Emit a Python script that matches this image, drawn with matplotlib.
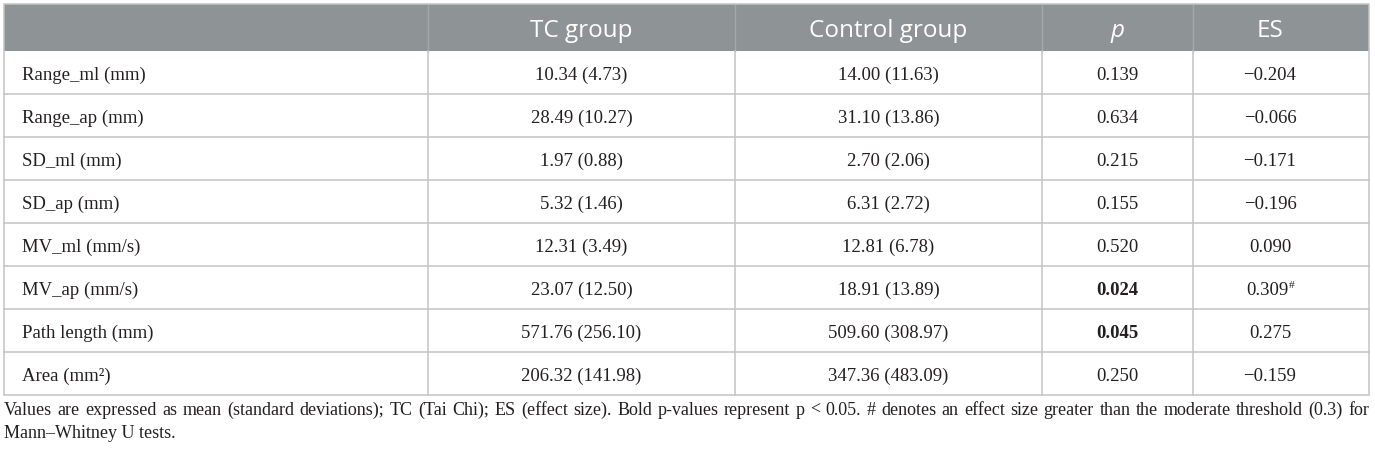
import matplotlib
matplotlib.use("Agg")
import matplotlib.pyplot as plt
from matplotlib.patches import Rectangle

# ---------------- data ----------------
col_headers = ["", "TC group", "Control group", "p", "ES"]
variables = ["Range_ml (mm)", "Range_ap (mm)", "SD_ml (mm)", "SD_ap (mm)",
             "MV_ml (mm/s)", "MV_ap (mm/s)", "Path length (mm)", "Area (mm²)"]
tc_mean = [10.34, 28.49, 1.97, 5.32, 12.31, 23.07, 571.76, 206.32]
tc_sd = [4.73, 10.27, 0.88, 1.46, 3.49, 12.50, 256.10, 141.98]
ctrl_mean = [14.00, 31.10, 2.70, 6.31, 12.81, 18.91, 509.60, 347.36]
ctrl_sd = [11.63, 13.86, 2.06, 2.72, 6.78, 13.89, 308.97, 483.09]
p_values = [0.139, 0.634, 0.215, 0.155, 0.520, 0.024, 0.045, 0.250]
effect_sizes = [-0.204, -0.066, -0.171, -0.196, 0.090, 0.309, 0.275, -0.159]
es_moderate = [False, False, False, False, False, True, False, False]
caption_line1 = ("Values are expressed as mean (standard deviations); TC (Tai Chi); ES (effect size). "
                 "Bold p-values represent p < 0.05. # denotes an effect size greater than the "
                 "moderate threshold (0.3) for")
caption_line2 = "Mann–Whitney U tests."

# ---------------- layout ----------------
W, H = 1375, 453
col_x = [4, 428, 735, 1042, 1193, 1369]
top, header_bottom, row_h = 4, 51, 43
n_rows = len(variables)
bottom = header_bottom + row_h * n_rows

header_bg = "#8e9395"
grid_c = "#c3c3c3"
text_c = "#231f20"
serif = "Liberation Serif"
sans = "Open Sans"
body_fs = 13.5
head_fs = 17.5
cap_fs = 13

fig = plt.figure(figsize=(W / 100, H / 100), dpi=100)
ax = fig.add_axes([0, 0, 1, 1])
ax.set_xlim(0, W)
ax.set_ylim(H, 0)
ax.axis("off")

# header band
ax.add_patch(Rectangle((col_x[0], top), col_x[-1] - col_x[0], header_bottom - top,
                       facecolor=header_bg, edgecolor="none", zorder=1))
# header dividers
for x in col_x[1:-1]:
    ax.plot([x, x], [top, header_bottom], color="#a4a8aa", lw=1.0, zorder=2)
# body grid
for i in range(1, n_rows):
    y = header_bottom + i * row_h
    ax.plot([col_x[0], col_x[-1]], [y, y], color=grid_c, lw=1.1, zorder=2)
for x in col_x[1:-1]:
    ax.plot([x, x], [header_bottom, bottom], color=grid_c, lw=1.1, zorder=2)
# outer border
ax.add_patch(Rectangle((col_x[0], top), col_x[-1] - col_x[0], bottom - top,
                       facecolor="none", edgecolor=grid_c, lw=1.1, zorder=3))

# header / value centres
centers = [(col_x[i] + col_x[i + 1]) / 2 for i in range(len(col_x) - 1)]
centers[4] = 1270
for j, h in enumerate(col_headers):
    if not h:
        continue
    ax.text(centers[j], 37.3, h, ha="center", va="baseline", color="white",
            fontsize=head_fs, family=sans, style="italic" if h == "p" else "normal", zorder=4)

def fmt(v):
    return f"{v:.3f}".replace("-", "\u2212")

renderer = fig.canvas.get_renderer()

def width_of(s, **kw):
    t = ax.text(0, 0, s, **kw)
    w = t.get_window_extent(renderer).width
    t.remove()
    return w

for i, var in enumerate(variables):
    yb = header_bottom + i * row_h + 29
    ax.text(22, yb, var, ha="left", va="baseline", fontsize=body_fs, family=serif, color=text_c)
    ax.text(centers[1], yb, f"{tc_mean[i]:.2f} ({tc_sd[i]:.2f})", ha="center", va="baseline",
            fontsize=body_fs, family=serif, color=text_c)
    ax.text(centers[2], yb, f"{ctrl_mean[i]:.2f} ({ctrl_sd[i]:.2f})", ha="center", va="baseline",
            fontsize=body_fs, family=serif, color=text_c)
    ax.text(centers[3], yb, f"{p_values[i]:.3f}", ha="center", va="baseline",
            fontsize=body_fs, family=serif, color=text_c,
            weight="bold" if p_values[i] < 0.05 else "normal")
    es_txt = fmt(effect_sizes[i])
    if es_moderate[i]:
        w = width_of(es_txt, fontsize=body_fs, family=serif)
        ws_ = width_of("#", fontsize=body_fs * 0.6, family=serif)
        x0 = centers[4] - (w + ws_) / 2
        ax.text(x0, yb, es_txt, ha="left", va="baseline",
                fontsize=body_fs, family=serif, color=text_c)
        ax.text(x0 + w + 0.5, yb - 6.5, "#", ha="left", va="baseline",
                fontsize=body_fs * 0.6, family=serif, color=text_c)
    else:
        ax.text(centers[4], yb, es_txt, ha="center", va="baseline",
                fontsize=body_fs, family=serif, color=text_c)

# caption, first line justified across table width
words = caption_line1.split(" ")
ws = [width_of(wd, fontsize=cap_fs, family=serif) for wd in words]
gap = (col_x[-1] - col_x[0] - sum(ws)) / (len(words) - 1)
x = col_x[0]
for wd, w in zip(words, ws):
    ax.text(x, 415, wd, ha="left", va="baseline", fontsize=cap_fs, family=serif, color=text_c)
    x += w + gap
ax.text(col_x[0], 438, caption_line2, ha="left", va="baseline", fontsize=cap_fs,
        family=serif, color=text_c)

fig.savefig("out.png", dpi=100)
